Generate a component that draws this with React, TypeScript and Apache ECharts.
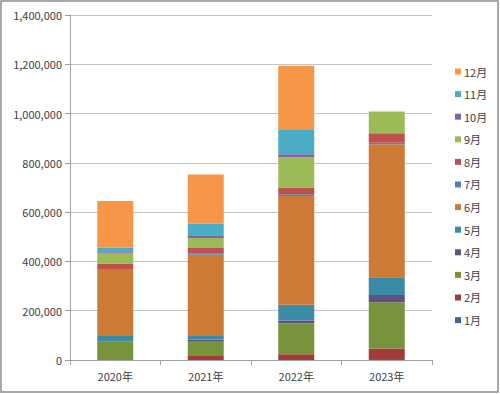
import React, { useEffect, useRef } from "react";
import * as echarts from "echarts";

const categories = ["2020年", "2021年", "2022年", "2023年"];
const months = ["1月", "2月", "3月", "4月", "5月", "6月", "7月", "8月", "9月", "10月", "11月", "12月"];
const m1 = [0, 0, 0, 4000];
const m2 = [0, 16000, 23000, 43000];
const m3 = [74000, 58000, 126000, 187000];
const m4 = [0, 9000, 11000, 30000];
const m5 = [23000, 14000, 64000, 72000];
const m6 = [272000, 330000, 442000, 540000];
const m7 = [0, 4000, 7000, 6000];
const m8 = [23000, 23000, 27000, 38000];
const m9 = [43000, 41000, 123000, 88000];
const m10 = [6000, 11000, 12000, 0];
const m11 = [16000, 47000, 101000, 0];
const m12 = [188000, 200000, 258000, 0];
const monthValues = [m1, m2, m3, m4, m5, m6, m7, m8, m9, m10, m11, m12];
const colors = [
  "#3C6A9E", "#A33B39", "#77933C", "#62507E", "#3A8BA5", "#CC7A36",
  "#4F81BD", "#C0504D", "#9BBB59", "#8064A2", "#4BACC6", "#F79646",
];
const yTicks = [0, 200000, 400000, 600000, 800000, 1000000, 1200000, 1400000];

const FONT = "'Noto Sans CJK JP', 'Noto Sans', sans-serif";

export default function App() {
  const ref = useRef<HTMLDivElement>(null);
  useEffect(() => {
    document.body.style.margin = "0";
    const chart = echarts.init(ref.current!, null, { renderer: "svg" });
    chart.setOption({
      animation: false,
      backgroundColor: "#ffffff",
      color: colors,
      textStyle: { fontFamily: FONT },
      grid: { left: 70, right: 68, top: 15, bottom: 34 },
      legend: {
        orient: "vertical",
        left: 450,
        top: 61,
        icon: "rect",
        itemWidth: 6,
        itemHeight: 6,
        itemGap: 11.6,
        data: months.slice().reverse(),
        textStyle: { fontSize: 11, color: "#404040", fontFamily: FONT, padding: [0, 0, 0, -2] },
      },
      xAxis: {
        type: "category",
        data: categories,
        axisLine: { lineStyle: { color: "#A0A0A0" } },
        axisTick: { show: true, length: 5, lineStyle: { color: "#A0A0A0" } },
        axisLabel: { fontSize: 11, color: "#404040", margin: 10, fontFamily: FONT },
      },
      yAxis: {
        type: "value",
        min: yTicks[0],
        max: yTicks[yTicks.length - 1],
        interval: 200000,
        axisLine: { show: true, lineStyle: { color: "#A0A0A0" } },
        axisTick: { show: true, length: 5, lineStyle: { color: "#A0A0A0" } },
        splitLine: { lineStyle: { color: "#C4C4C4" } },
        axisLabel: {
          fontSize: 11,
          color: "#404040",
          margin: 8,
          fontFamily: FONT,
          formatter: (v: number) => v.toLocaleString("en-US"),
        },
      },
      series: months.map((name, i) => ({
        name,
        type: "bar",
        stack: "total",
        barWidth: 36,
        data: monthValues[i],
        itemStyle: { color: colors[i] },
      })),
      graphic: [
        {
          type: "rect",
          shape: { x: 1, y: 1, width: 497, height: 391 },
          style: { fill: "none", stroke: "#8C8C8C", lineWidth: 1.5 },
          silent: true,
        },
      ],
    });
    return () => chart.dispose();
  }, []);
  return <div ref={ref} style={{ width: 500, height: 394 }} />;
}
